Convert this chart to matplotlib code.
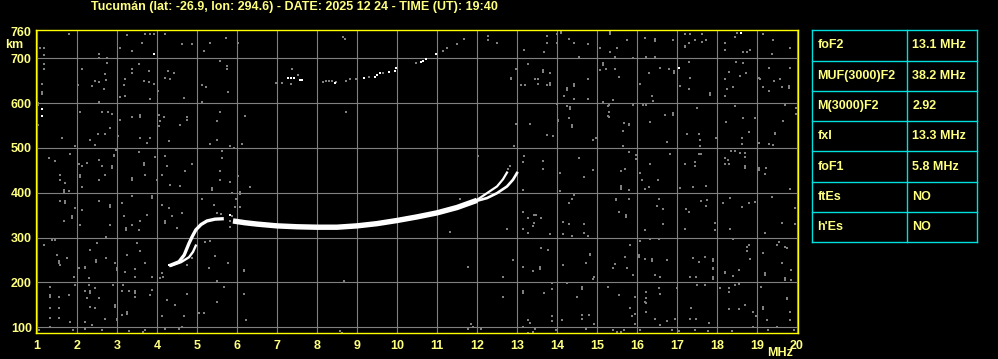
import matplotlib
matplotlib.use("Agg")
import matplotlib.pyplot as plt

plt.rcParams['font.family'] = ['Liberation Sans', 'DejaVu Sans']
plt.rcParams['font.weight'] = 'bold'

TITLE = "Tucumán (lat: -26.9, lon: 294.6) - DATE: 2025 12 24 - TIME (UT): 19:40"

freq_ticks = list(range(1, 21))
height_ticks = [100, 200, 300, 400, 500, 600, 700, 760]

# ---- echo traces (MHz, km) ----
f1_freq = [4.3, 4.55, 4.68, 4.8, 4.88, 4.97, 5.1, 5.25, 5.45, 5.67]
f1_km = [237, 246, 261, 287, 302, 317, 329, 337, 341, 342]
f1b_freq = [4.35, 4.6, 4.8, 4.9, 4.97]
f1b_km = [237, 245, 256, 268, 282]
main_freq = [5.9, 6.2, 6.5, 7.0, 7.5, 8.0, 8.5, 9.0, 9.5, 10.0, 10.5, 11.0, 11.5, 12.0]
main_km = [337, 333, 330, 326, 324, 323, 323, 326, 331, 338, 346, 355, 367, 383]
branch_o_freq = [12.0, 12.25, 12.5, 12.65, 12.75]
branch_o_km = [384, 399, 414, 430, 445]
branch_x_freq = [12.0, 12.25, 12.5, 12.75, 12.9, 13.0]
branch_x_km = [382, 388, 399, 414, 429, 444]

hop2_white = [(7.27, 656), (7.35, 655), (7.42, 655), (7.57, 651), (7.62, 651), (8.44, 644),
              (9.17, 655), (9.44, 659), (9.5, 662), (9.57, 666), (9.8, 669), (9.94, 672),
              (9.98, 678), (10.6, 692), (10.65, 694), (10.72, 698), (10.98, 709), (5.83, 350)]
hop2_gray = [(6.98, 644), (7.13, 644), (7.35, 642), (7.38, 675), (7.52, 662), (8.15, 646),
             (8.22, 649), (8.3, 649), (8.38, 649), (8.48, 646), (8.73, 649), (8.83, 653),
             (8.98, 653), (9.3, 659), (9.65, 666), (10.48, 689), (11.14, 716), (11.25, 722),
             (11.5, 731), (11.68, 744), (5.5, 355), (5.6, 352), (12.82, 460), (12.78, 452)]

white_dots = [(1.12, 586), (1.12, 571), (3.93, 709), (17.04, 679), (18.59, 757), (4.3, 239)]

noise_gray = [
    (1.79, 754), (1.08, 722), (1.17, 722), (1.17, 707), (2.33, 763), (2.46, 763), (2.67, 763),
    (2.54, 709), (2.54, 700), (2.75, 701), (3.25, 752), (3.62, 735), (3.71, 754), (3.83, 754),
    (3.92, 754), (4.19, 754), (4.62, 731), (4.87, 731), (5.33, 735), (5.17, 716), (3.08, 722),
    (3.37, 716), (1.17, 688), (1.17, 675), (2.12, 675), (2.75, 690), (2.69, 664), (2.46, 649),
    (2.54, 646), (2.73, 651), (2.37, 638), (2.67, 631), (3.19, 653), (3.37, 675), (3.37, 668),
    (3.54, 688), (3.79, 672), (3.79, 646), (3.67, 649), (3.92, 643), (3.17, 640), (1.12, 642),
    (1.12, 620), (1.12, 625), (2.02, 640), (4.27, 672), (4.42, 668), (4.33, 653), (4.21, 657),
    (4.67, 612), (5.12, 640), (5.22, 636), (5.58, 693), (5.12, 603), (4.03, 627), (2.54, 603),
    (3.08, 613), (3.83, 608), (3.21, 616), (1.02, 600), (1.02, 596), (1.02, 552), (2.08, 581),
    (2.62, 581), (2.77, 581), (2.87, 576), (3.08, 563), (3.37, 570), (3.58, 573), (3.58, 568),
    (4.04, 573), (4.17, 570), (4.08, 560), (4.04, 549), (4.58, 552), (4.75, 570), (4.75, 563),
    (5.5, 560), (5.58, 581), (2.83, 545), (3.02, 526), (1.62, 522), (2.33, 518), (2.52, 531),
    (2.69, 531), (3.58, 522), (3.83, 522), (4.29, 515), (5.33, 509), (5.5, 518), (1.94, 504),
    (2.44, 506), (3.75, 511), (1.29, 478), (1.46, 470), (1.83, 487), (2.04, 463), (2.12, 459),
    (2.08, 440), (2.08, 436), (1.58, 440), (1.58, 429), (1.71, 422), (1.67, 405), (1.67, 401),
    (1.79, 403), (2.25, 466), (2.54, 474), (2.54, 429), (2.62, 459), (2.69, 440), (2.87, 459),
    (2.87, 455), (2.92, 485), (2.92, 481), (2.98, 496), (3.37, 433), (3.37, 429), (3.54, 491),
    (3.67, 466), (3.67, 462), (3.71, 440), (3.96, 480), (4.19, 482), (4.25, 459), (4.12, 440),
    (4.0, 429), (4.33, 418), (4.71, 448), (4.87, 463), (4.58, 414), (5.37, 410), (5.37, 406),
    (5.58, 449), (5.58, 429), (5.62, 493), (5.62, 478), (2.12, 412), (1.58, 381), (1.69, 381),
    (1.69, 377), (1.94, 366), (1.87, 347), (1.87, 343), (1.67, 337), (2.12, 362), (2.08, 328),
    (2.54, 381), (2.83, 373), (2.83, 369), (2.83, 328), (3.12, 377), (3.37, 392), (3.17, 347),
    (3.23, 321), (3.23, 317), (3.37, 328), (3.54, 317), (3.58, 336), (3.87, 392), (3.87, 388),
    (3.75, 351), (4.12, 373), (4.29, 366), (4.19, 336), (4.19, 332), (4.38, 347), (4.5, 321),
    (4.62, 355), (5.12, 387), (5.43, 373), (2.73, 302), (1.46, 295), (1.37, 295), (1.5, 261),
    (1.54, 243), (1.54, 247), (1.58, 239), (1.17, 284), (1.75, 254), (2.04, 233), (2.21, 235),
    (2.21, 231), (1.92, 213), (2.33, 272), (2.5, 287), (2.48, 246), (2.48, 250), (2.29, 209),
    (2.73, 255), (2.96, 243), (3.0, 231), (3.0, 227), (3.25, 261), (3.21, 224), (3.46, 230),
    (3.46, 213), (3.5, 287), (3.58, 270), (3.71, 243), (3.87, 211), (4.08, 209), (4.15, 213),
    (4.12, 220), (4.87, 254), (4.75, 239), (5.21, 291), (5.33, 292), (5.29, 233), (5.46, 258),
    (5.5, 202), (1.33, 190), (1.33, 172), (1.33, 168), (1.54, 168), (1.79, 172), (1.33, 142),
    (1.54, 142), (1.33, 120), (1.54, 120), (1.33, 101), (1.83, 112), (1.96, 195), (2.29, 193),
    (2.33, 180), (2.33, 176), (2.21, 180), (2.46, 187), (2.25, 165), (2.54, 164), (2.33, 146),
    (2.46, 142), (2.21, 112), (2.37, 104), (2.71, 119), (2.9, 194), (2.96, 149), (2.96, 145),
    (3.0, 119), (3.0, 115), (3.12, 180), (3.29, 180), (3.44, 180), (3.44, 176), (3.14, 194),
    (3.46, 168), (3.25, 134), (3.25, 130), (3.12, 127), (3.87, 183), (3.83, 172), (4.25, 161),
    (4.12, 124), (4.46, 149), (4.67, 124), (4.62, 101), (4.75, 175), (5.04, 131), (5.17, 131),
    (5.5, 157), (5.67, 190), (1.04, 94), (3.71, 94), (2.62, 94), (1.9, 94), (2.2, 97), (3.3, 92),
    (3.65, 90), (4.2, 97), (4.55, 95),
    (6.02, 735), (8.65, 748), (8.69, 744), (8.73, 581), (6.19, 571), (6.13, 509), (5.83, 504),
    (5.92, 500), (6.02, 438), (5.83, 425), (6.33, 413), (6.08, 401), (6.08, 397), (5.88, 399),
    (5.97, 387), (5.95, 368), (6.08, 368), (5.88, 349), (5.82, 336), (5.83, 324), (5.78, 243),
    (6.18, 228), (6.18, 225), (8.67, 202), (6.18, 175), (6.23, 116), (8.63, 88), (5.73, 746),
    (5.78, 625), (5.75, 683), (5.75, 675), (8.58, 92),
    (12.28, 750), (12.28, 740), (12.49, 735), (12.93, 763), (13.18, 718), (13.28, 688),
    (13.68, 763), (13.88, 763), (14.1, 761), (14.1, 757), (13.74, 749), (13.74, 735),
    (13.68, 713), (14.0, 754), (14.0, 733), (14.31, 743), (14.43, 735), (14.78, 731),
    (15.08, 722), (14.54, 703), (15.14, 690), (15.14, 686), (15.08, 673), (15.23, 675),
    (13.64, 673), (13.64, 669), (13.83, 666), (13.45, 653), (13.53, 653), (13.53, 643),
    (13.83, 645), (13.83, 641), (13.74, 640), (13.1, 640), (12.85, 657), (12.85, 653),
    (12.97, 675), (13.2, 640), (14.24, 634), (14.24, 630), (14.18, 615), (14.43, 642),
    (14.43, 638), (14.43, 608), (14.78, 653), (14.78, 608), (15.14, 603), (14.25, 593),
    (14.33, 591), (14.33, 587), (14.0, 599), (14.03, 563), (14.03, 559), (14.29, 567),
    (14.38, 551), (14.38, 547), (15.27, 593), (15.27, 571), (13.33, 553), (12.97, 553),
    (13.74, 529), (13.89, 527), (14.89, 518), (14.98, 522), (12.93, 504), (12.03, 483),
    (13.18, 482), (13.14, 469), (13.64, 470), (13.64, 452), (14.54, 478), (14.89, 451),
    (14.08, 445), (14.68, 436), (13.14, 407), (14.08, 403), (14.43, 394), (14.37, 387),
    (14.29, 377), (11.58, 386), (13.14, 356), (13.43, 350), (13.47, 350), (13.28, 343),
    (13.6, 344), (13.43, 333), (13.39, 325), (14.14, 334), (14.29, 331), (14.68, 331),
    (14.68, 310), (13.14, 320), (13.28, 311), (13.83, 307), (14.14, 307), (14.37, 303),
    (14.78, 303), (12.74, 320), (11.33, 313), (13.6, 276), (13.78, 272), (14.83, 264),
    (14.83, 260), (12.89, 249), (13.14, 235), (13.39, 226), (13.58, 234), (13.58, 230),
    (14.14, 239), (14.73, 243), (14.93, 213), (14.89, 208), (11.78, 235), (12.64, 213),
    (13.14, 180), (13.14, 176), (13.68, 176), (13.88, 198), (13.88, 186), (14.24, 198),
    (14.62, 189), (14.62, 185), (14.5, 168), (15.27, 190), (12.64, 167), (13.88, 125),
    (13.88, 113), (14.13, 115), (14.62, 127), (14.62, 118), (14.8, 127), (14.93, 106),
    (14.73, 97), (13.27, 115), (13.33, 110), (13.14, 101), (13.45, 97), (11.85, 106),
    (11.77, 97), (13.27, 88), (13.39, 90), (13.98, 94), (11.9, 100), (12.1, 96),
    (15.33, 758), (15.33, 754), (16.14, 763), (16.33, 763), (15.75, 740), (16.19, 745),
    (16.44, 742), (16.44, 738), (16.89, 740), (15.5, 722), (15.33, 713), (15.46, 702),
    (15.89, 700), (16.23, 703), (16.44, 703), (17.21, 754), (17.33, 754), (17.48, 763),
    (17.63, 754), (17.19, 728), (17.19, 724), (17.29, 734), (17.44, 741), (17.63, 737),
    (17.73, 741), (18.08, 763), (18.19, 735), (18.19, 718), (18.44, 748), (18.49, 757),
    (18.79, 763), (18.64, 715), (18.75, 713), (18.83, 718), (19.14, 754), (19.39, 740),
    (19.38, 709), (19.83, 722), (15.44, 675), (15.54, 658), (16.08, 643), (16.29, 666),
    (16.58, 679), (16.79, 675), (16.93, 671), (16.93, 667), (17.31, 692), (17.33, 657),
    (17.08, 638), (17.29, 631), (17.83, 623), (17.83, 619), (18.48, 692), (18.64, 690),
    (18.29, 670), (18.58, 660), (18.73, 666), (18.19, 653), (18.25, 631), (18.39, 635),
    (18.19, 616), (19.04, 657), (19.08, 653), (19.31, 679), (19.43, 649), (19.14, 635),
    (19.29, 627), (19.63, 635), (19.79, 638), (19.79, 634), (19.83, 679), (19.58, 653),
    (15.39, 607), (16.38, 616), (16.39, 604), (15.29, 596), (15.89, 596), (16.14, 596),
    (16.23, 596), (15.29, 579), (15.29, 568), (15.67, 555), (15.79, 554), (15.79, 550),
    (15.64, 538), (16.33, 558), (16.69, 574), (16.89, 578), (16.89, 574), (17.5, 590),
    (17.25, 531), (17.54, 531), (17.58, 517), (17.58, 504), (17.54, 487), (17.98, 523),
    (16.75, 514), (18.23, 558), (18.44, 593), (18.64, 567), (18.63, 522), (18.63, 509),
    (18.79, 535), (18.94, 567), (19.04, 511), (19.44, 534), (19.44, 530), (19.64, 560),
    (19.29, 509), (19.39, 506), (19.69, 596), (19.98, 590), (19.98, 576), (15.64, 504),
    (15.79, 491), (15.98, 485), (15.98, 476), (16.33, 465), (16.83, 487), (17.19, 465),
    (17.44, 469), (17.44, 460), (17.57, 487), (17.6, 487), (15.61, 449), (15.7, 454),
    (16.08, 444), (16.12, 429), (16.53, 429), (15.6, 416), (15.6, 412), (15.6, 408),
    (15.79, 407), (16.19, 409), (16.29, 413), (17.08, 410), (17.39, 413), (17.73, 416),
    (18.19, 478), (18.27, 474), (18.21, 464), (18.29, 463), (18.36, 494), (18.44, 494),
    (18.58, 489), (18.69, 489), (18.69, 480), (18.69, 460), (18.69, 456), (19.04, 455),
    (19.04, 451), (19.23, 455), (19.19, 441), (19.83, 409), (15.48, 387), (15.48, 383),
    (15.79, 385), (15.73, 350), (15.73, 346), (15.54, 357), (16.54, 387), (16.5, 370),
    (16.64, 364), (16.64, 330), (16.19, 316), (17.23, 363), (17.29, 356), (17.19, 318),
    (17.6, 381), (17.75, 384), (17.73, 371), (17.94, 332), (17.94, 317), (18.14, 377),
    (18.33, 388), (18.63, 368), (18.79, 376), (18.94, 379), (18.33, 318), (19.38, 390),
    (19.19, 309), (19.63, 332), (19.94, 366), (19.94, 330), (15.83, 284), (15.69, 257),
    (15.44, 240), (15.39, 233), (15.75, 231), (15.89, 216), (16.08, 293), (16.04, 260),
    (16.04, 256), (16.19, 252), (16.38, 252), (16.38, 248), (16.44, 216), (16.58, 213),
    (16.75, 249), (16.33, 297), (16.54, 297), (17.39, 254), (17.54, 245), (17.69, 257),
    (17.89, 252), (17.89, 248), (17.89, 233), (17.89, 229), (17.33, 213), (17.48, 213),
    (17.89, 211), (17.89, 207), (18.19, 224), (18.19, 220), (18.39, 215), (18.54, 228),
    (18.75, 279), (18.75, 269), (18.83, 251), (18.39, 297), (18.79, 284), (19.14, 266),
    (19.19, 220), (19.19, 216), (19.5, 284), (19.54, 291), (19.69, 279), (19.75, 277),
    (19.63, 243), (19.86, 228), (19.69, 209), (19.69, 205), (19.86, 205), (15.54, 172),
    (15.96, 168), (16.23, 179), (16.23, 165), (16.23, 154), (16.19, 156), (16.54, 188),
    (16.58, 175), (15.83, 142), (15.94, 129), (15.88, 124), (15.94, 108), (16.23, 134),
    (16.44, 119), (16.75, 113), (16.58, 104), (16.94, 118), (17.0, 187), (17.5, 194),
    (17.69, 194), (17.36, 142), (17.33, 119), (17.48, 119), (17.79, 110), (18.08, 187),
    (18.29, 187), (18.46, 195), (18.54, 197), (18.29, 178), (18.29, 140), (18.56, 140),
    (18.69, 149), (18.89, 134), (18.98, 124), (18.89, 101), (19.1, 190), (19.14, 145),
    (19.14, 141), (19.25, 116), (19.5, 101), (19.75, 166), (19.75, 162), (19.83, 134),
    (19.83, 116), (15.39, 94), (15.5, 90), (15.67, 94), (15.6, 90), (16.88, 94), (17.04, 92),
    (17.44, 94), (17.77, 92), (18.38, 91), (19.28, 94), (19.92, 94), (16.08, 94),
]

table_labels = ["foF2", "MUF(3000)F2", "M(3000)F2", "fxI", "foF1", "ftEs", "h'Es"]
table_values = ["13.1 MHz", "38.2 MHz", "2.92", "13.3 MHz", "5.8 MHz", "NO", "NO"]

YEL = '#ffff00'
TXT = '#ffff80'
GRID = '#808080'
CYAN = '#00e0e0'
FS = 9

W, H = 998, 359
fig = plt.figure(figsize=(W / 100, H / 100), dpi=100, facecolor='black')
ax = fig.add_axes([36 / W, (H - 333) / H, (798 - 36) / W, (333 - 30) / H])
ax.set_facecolor('black')
ax.set_xlim(0.975, 20.025)
ax.set_ylim(87, 763)

for f in freq_ticks:
    ax.axvline(f, color=GRID, lw=0.8, zorder=1)
for h in height_ticks[:-1]:
    ax.axhline(h, color=GRID, lw=0.8, zorder=1)

ax.plot([p[0] for p in noise_gray], [p[1] for p in noise_gray], ls='none', marker='s',
        ms=1.6, mew=0, color=GRID, zorder=2)
ax.plot([p[0] for p in hop2_gray], [p[1] for p in hop2_gray], ls='none', marker='s',
        ms=1.7, mew=0, color=GRID, zorder=2)

ax.plot(main_freq, main_km, color='white', lw=3.9, solid_capstyle='butt', zorder=4)
ax.plot(branch_o_freq, branch_o_km, color='white', lw=1.6, zorder=4)
ax.plot(branch_x_freq, branch_x_km, color='white', lw=1.9, zorder=4)
ax.plot(f1_freq, f1_km, color='white', lw=2.4, solid_capstyle='butt', zorder=4)
ax.plot(f1b_freq, f1b_km, color='white', lw=1.7, zorder=4)
ax.plot([p[0] for p in hop2_white], [p[1] for p in hop2_white], ls='none', marker='s',
        ms=1.9, mew=0, color='white', zorder=4)
ax.plot([p[0] for p in white_dots], [p[1] for p in white_dots], ls='none', marker='s',
        ms=1.9, mew=0, color='white', zorder=4)

for s in ax.spines.values():
    s.set_color(YEL)
    s.set_linewidth(1.0)

ax.set_xticks(freq_ticks)
ax.set_xticklabels([str(f) for f in freq_ticks])
ax.set_yticks(height_ticks)
ax.set_yticklabels([str(h) for h in height_ticks])
ax.tick_params(length=0, colors=TXT, labelsize=FS)
ax.tick_params(axis='x', pad=5)
ax.tick_params(axis='y', pad=3)
for lbl in ax.get_xticklabels() + ax.get_yticklabels():
    lbl.set_fontweight('bold')

fig.text(294.5 / W, 1 - 7 / H, TITLE, color=TXT, fontsize=FS, fontweight='bold',
         ha='center', va='center')
fig.text(14 / W, 1 - 45 / H, "km", color=TXT, fontsize=FS, fontweight='bold',
         ha='center', va='center')
fig.text(780 / W, 1 - 353 / H, "MHz", color=TXT, fontsize=FS, fontweight='bold',
         ha='center', va='center')

# table
tx0, tx1, ty0, ty1 = 812.3, 977.3, 30.3, 242.3
tax = fig.add_axes([tx0 / W, (H - ty1) / H, (tx1 - tx0) / W, (ty1 - ty0) / H])
tax.set_xlim(tx0, tx1)
tax.set_ylim(ty1, ty0)
tax.axis('off')
nrow = len(table_labels)
rh = (ty1 - ty0) / nrow
colx = 907.3
for i in range(nrow + 1):
    tax.plot([tx0, tx1], [ty0 + i * rh] * 2, color=CYAN, lw=1.0, clip_on=False)
tax.plot([tx0, tx0], [ty0, ty1], color=CYAN, lw=1.0, clip_on=False)
tax.plot([tx1, tx1], [ty0, ty1], color=CYAN, lw=1.0, clip_on=False)
tax.plot([colx, colx], [ty0, ty1], color=CYAN, lw=1.0, clip_on=False)
for i, (lab, val) in enumerate(zip(table_labels, table_values)):
    yc = ty0 + (i + 0.5) * rh
    tax.text(817.5, yc, lab, color=TXT, fontsize=FS, fontweight='bold', ha='left', va='center')
    tax.text(912.5, yc, val, color=TXT, fontsize=FS, fontweight='bold', ha='left', va='center')

fig.savefig('out.png', dpi=100, facecolor='black')
